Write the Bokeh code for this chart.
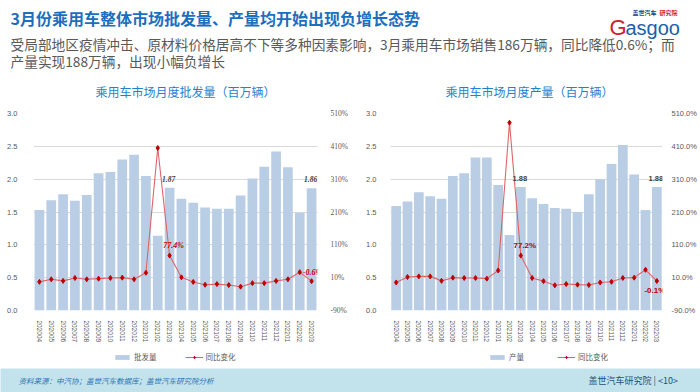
from bokeh.plotting import figure
from bokeh.models import (Range1d, FactorRange, LinearAxis, FixedTicker, PrintfTickFormatter,
                          Legend, LegendItem, ColumnDataSource)
from bokeh.layouts import column, row
from bokeh.core.properties import value
from bokeh.embed import file_html
from bokeh.resources import INLINE

# ---------------- data ----------------
months = ["202004", "202005", "202006", "202007", "202008", "202009", "202010", "202011",
          "202012", "202101", "202102", "202103", "202104", "202105", "202106", "202107",
          "202108", "202109", "202110", "202111", "202112", "202201", "202202", "202203"]
wholesale = [1.53, 1.68, 1.77, 1.67, 1.76, 2.09, 2.11, 2.30, 2.37, 2.05, 1.14, 1.87,
             1.70, 1.64, 1.57, 1.55, 1.55, 1.75, 2.01, 2.19, 2.42, 2.18, 1.49, 1.86]
wholesale_yoy = [-2.8, 5.0, 0.2, 9.0, 5.0, 7.0, 9.0, 10.0, 5.0, 25.0, 405.0, 77.4,
                 11.0, -3.0, -11.6, -9.6, -12.5, -17.5, -6.7, -6.7, 0.2, 5.0, 26.7, -0.6]
production = [1.59, 1.66, 1.80, 1.74, 1.70, 2.05, 2.09, 2.33, 2.33, 1.91, 1.15, 1.88,
              1.71, 1.62, 1.56, 1.55, 1.50, 1.77, 2.00, 2.23, 2.52, 2.07, 1.53, 1.88]
production_yoy = [-4.6, 12.0, 13.9, 13.9, 0.3, 10.0, 9.0, 9.0, 7.0, 32.0, 482.0, 77.2,
                  9.0, -0.6, -13.3, -9.4, -11.3, -12.3, -4.6, -2.6, 9.0, 10.0, 34.0, -0.1]
y_ticks = [0.0, 0.5, 1.0, 1.5, 2.0, 2.5, 3.0]
pct_ticks = [-90, 10, 110, 210, 310, 410, 510]

main_title = "3月份乘用车整体市场批发量、产量均开始出现负增长态势"
sub_line1 = "受局部地区疫情冲击、原材料价格居高不下等多种因素影响，3月乘用车市场销售186万辆，同比降低0.6%；而"
sub_line2 = "产量实现188万辆，出现小幅负增长"
chart_titles = ["乘用车市场月度批发量（百万辆）", "乘用车市场月度产量（百万辆）"]
bar_names = ["批发量", "产量"]
line_name = "同比变化"
source_text = "资料来源：中汽协；盖世汽车数据库；盖世汽车研究院分析"
page_text = "盖世汽车研究院 | <10>"

CJK = "Noto Sans CJK SC"
BAR = "#b9cde5"
LINE = "#e06464"
MARK = "#c00000"
GRID = "#d9d9d9"
TICK = "#595959"


def plain(fig):
    fig.axis.visible = False
    fig.grid.visible = False
    fig.outline_line_color = None
    return fig


def chart(vals, yoy, pct_fmt, num_font, bar_w, borders, last_dx):
    bl, br, bt, bb = borders
    p = figure(width=350, height=245, x_range=FactorRange(*months), y_range=Range1d(0, 3.0),
               output_backend="svg", toolbar_location=None, min_border_left=bl,
               min_border_right=br, min_border_top=bt, min_border_bottom=bb,
               sizing_mode="fixed")
    p.outline_line_color = None
    p.extra_y_ranges = {"pct": Range1d(-90, 510)}
    src = ColumnDataSource(dict(m=months, v=vals, y=yoy))
    p.vbar(x="m", top="v", width=bar_w, source=src, fill_color=BAR, line_color=None)
    p.line(x="m", y="y", source=src, y_range_name="pct", line_color=LINE, line_width=1.1)
    p.scatter(x="m", y="y", source=src, y_range_name="pct", marker="diamond", size=5,
              fill_color=MARK, line_color=MARK)

    p.xgrid.grid_line_color = None
    p.ygrid.ticker = FixedTicker(ticks=y_ticks)
    p.ygrid.grid_line_color = GRID
    p.ygrid.grid_line_width = 1

    ya = p.yaxis[0]
    ya.ticker = FixedTicker(ticks=y_ticks)
    ya.formatter = PrintfTickFormatter(format="%.1f")
    ax2 = LinearAxis(y_range_name="pct", ticker=FixedTicker(ticks=pct_ticks),
                     formatter=PrintfTickFormatter(format=pct_fmt))
    p.add_layout(ax2, "right")
    for a in (ya, ax2, p.xaxis[0]):
        a.axis_line_color = None
        a.major_tick_line_color = None
        a.minor_tick_line_color = None
        a.major_label_text_color = TICK
        a.major_label_text_font_size = "7.5px"
    ya.major_label_standoff = 10 if bl < 36 else 8
    ax2.major_label_standoff = 7 if br < 36 else 3
    ax2.major_label_text_font = num_font
    xa = p.xaxis[0]
    xa.major_label_orientation = "vertical"
    xa.major_label_text_font_size = "6.5px"
    xa.major_label_standoff = 4

    # data labels
    serif = num_font.endswith("Serif")
    lab_m = [months[11], months[23]]
    lab_v = [vals[11], vals[23]]
    p.text(x=lab_m, y=lab_v, text=[f"{v:.2f}" for v in lab_v], text_align="center",
           text_baseline="middle", y_offset=-9, x_offset=-1, text_font_size="7.5px",
           text_font_style="bold italic" if serif else "bold",
           text_color="#404040", text_font=value(num_font))
    fmt = "{:.1f}%"
    style = "bold italic" if serif else "bold"
    p.text(x=[months[11]], y=[yoy[11]], text=[fmt.format(yoy[11])], y_range_name="pct",
           text_align="center", text_baseline="middle", x_offset=4, y_offset=-10,
           text_font_size="8px", text_font_style=style, text_color=MARK,
           text_font=value(num_font))
    p.text(x=[months[23]], y=[yoy[23]], text=[fmt.format(yoy[23])], y_range_name="pct",
           text_align="center", text_baseline="middle", x_offset=last_dx,
           y_offset=-9 if serif else 10, text_font_size="8px", text_font_style=style,
           text_color=MARK, text_font=value(num_font))
    return p


def legend_fig(bname, bar_w, x0):
    f = plain(figure(width=350, height=23, x_range=Range1d(0, 1), y_range=Range1d(0, 1),
                     output_backend="svg", toolbar_location=None, min_border=0,
                     sizing_mode="fixed"))
    # renderers placed outside the visible range: they only feed the legend swatches
    b = f.vbar(x=[-5], top=[-5], bottom=[-6], width=bar_w, fill_color=BAR, line_color=None)
    ln = f.line(x=[-6, -5], y=[-5, -5], line_color=LINE, line_width=1.1)
    sc = f.scatter(x=[-5], y=[-5], marker="diamond", size=5, fill_color=MARK, line_color=MARK)
    lg = Legend(items=[LegendItem(label=bname, renderers=[b]),
                       LegendItem(label=line_name, renderers=[ln, sc])],
                orientation="horizontal", location=(x0, 6), border_line_color=None,
                background_fill_alpha=0, glyph_width=18, glyph_height=6,
                label_text_font_size="7.5px", label_text_color=TICK, label_text_font=CJK,
                spacing=28, padding=0, margin=0, label_standoff=3, label_height=10)
    f.add_layout(lg)
    return f


left = chart(wholesale, wholesale_yoy, "%d%%", "Liberation Serif", 0.82, (33, 32, 13, 28), 1)
right = chart(production, production_yoy, "%.1f%%", "Liberation Sans", 0.86, (40, 38, 13, 27), -2)
leg_left = legend_fig(bar_names[0], 0.82, 113)
leg_right = legend_fig(bar_names[1], 0.86, 138)

# ---------------- header (incl. chart titles) ----------------
hdr = plain(figure(width=700, height=100, x_range=Range1d(0, 700), y_range=Range1d(100, 0),
                   output_backend="svg", toolbar_location=None, min_border=0,
                   sizing_mode="fixed"))
hdr.text(x=[10], y=[17], text=[main_title], text_font=value(CJK), text_font_size="16px",
         text_font_style="bold", text_color="#1a6fbf", text_baseline="middle")
hdr.text(x=[10, 10], y=[43, 60], text=[sub_line1, sub_line2], text_font=value(CJK),
         text_font_size="13.7px", text_color="#595959", text_baseline="middle")
hdr.text(x=[95, 445], y=[91, 91], text=chart_titles, text_font=value(CJK),
         text_font_size="12px", text_color="#1f82d0", text_baseline="middle")
hdr.text(x=[609], y=[27], text=["G"], text_font=value("Liberation Sans"), text_font_size="22px",
         text_color="#d0202a", text_baseline="middle")
hdr.text(x=[625], y=[27], text=["asgoo"], text_font=value("Liberation Sans"),
         text_font_size="20px", text_color="#1b5faa", text_baseline="middle")
hdr.text(x=[632], y=[12], text=["盖世汽车"], text_font=value(CJK), text_font_size="6px",
         text_color="#1b3f7a", text_baseline="middle", text_font_style="bold")
hdr.text(x=[659], y=[12], text=["研究院"], text_font=value(CJK), text_font_size="6px",
         text_color="#d0202a", text_baseline="middle", text_font_style="bold")

# ---------------- footer ----------------
ftr = plain(figure(width=700, height=24, x_range=Range1d(0, 700), y_range=Range1d(392, 368),
                   output_backend="svg", toolbar_location=None, min_border=0,
                   sizing_mode="fixed", background_fill_color="#c3e3ec",
                   border_fill_color="#c3e3ec"))
ftr.text(x=[18], y=[380], text=[source_text], text_font=value(CJK), text_font_size="7.5px",
         text_font_style="italic", text_color="#2e75b6", text_baseline="middle")
ftr.text(x=[588], y=[380], text=[page_text], text_font=value(CJK), text_font_size="9px",
         text_color="#1f4e79", text_baseline="middle")

page = column(hdr, row(left, right), row(leg_left, leg_right), ftr)
open("out.html", "w").write(file_html(page, INLINE))
